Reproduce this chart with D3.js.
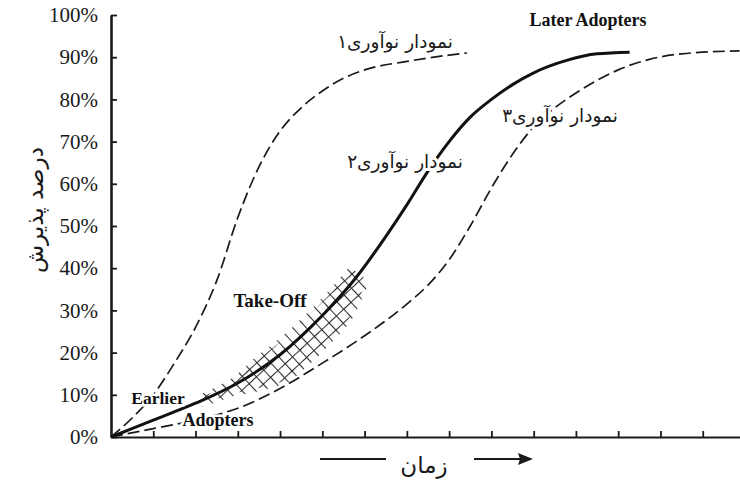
<!DOCTYPE html>
<html>
<head>
<meta charset="utf-8">
<script src="https://cdn.jsdelivr.net/npm/d3@7"></script>
<style>
  body { margin: 0; background: #fff; }
  svg { display: block; }
  .tick text { font-family: "Liberation Serif", serif; font-size: 21px; fill: #1a1a1a; }
  .fa { font-family: "DejaVu Sans", sans-serif; fill: #1a1a1a; }
  .en { font-family: "Liberation Serif", serif; fill: #111; }
</style>
</head>
<body>
<div class="wrapper"></div>
<script>
// tick values / labels
var yTicks = [0, 10, 20, 30, 40, 50, 60, 70, 80, 90, 100];
var yTickLabels = ["0%", "10%", "20%", "30%", "40%", "50%", "60%", "70%", "80%", "90%", "100%"];
var xTicks = [1, 2, 3, 4, 5, 6, 7, 8, 9, 10, 11, 12, 13, 14];

// curves: [time, % adoption]
var innovation1 = [[0, 0], [0.5, 4.5], [1, 10], [1.5, 17.5], [2, 26], [2.5, 37], [3, 52], [3.5, 64],
  [4, 72.5], [4.5, 78], [5, 82], [5.5, 85], [6, 87], [7, 89], [8, 90.5], [8.42, 91]];
var innovation2 = [[0, 0], [1, 4], [2, 8], [3, 12.8], [4, 19.5], [5, 28.8], [5.8, 37.8], [6.5, 47.5],
  [7, 55], [7.5, 63], [8, 70], [8.5, 75.8], [9, 80], [9.5, 83.5], [10, 86.3], [10.8, 89.3],
  [11.5, 90.8], [12.27, 91.2]];
var innovation3 = [[0, 0], [1, 2], [2, 4], [3, 6.8], [4, 11.5], [5, 17.5], [6, 24], [7, 31.5],
  [7.5, 36], [8, 42], [8.5, 50], [9, 59], [9.5, 67], [10, 73.5], [10.5, 78], [11, 81.5],
  [11.5, 84.5], [12, 87], [12.74, 89.5], [13.5, 90.8], [14.87, 91.5]];

var W = 740, H = 481;

var svg = d3.select(".wrapper").append("svg")
  .attr("width", W).attr("height", H);

var x = d3.scaleLinear().domain([0, 15]).range([111, 745]);
var y = d3.scaleLinear().domain([0, 100]).range([437, 15]);

var line = d3.line()
  .x(function (d) { return x(d[0]); })
  .y(function (d) { return y(d[1]); })
  .curve(d3.curveMonotoneX);

// axes
var yAxis = svg.append("g")
  .attr("transform", "translate(" + x(0) + ",0)")
  .call(d3.axisLeft(y).tickValues(yTicks)
    .tickFormat(function (d, i) { return yTickLabels[i]; })
    .tickSizeInner(-6).tickSizeOuter(0).tickPadding(13));
yAxis.select(".domain").attr("stroke", "#1a1a1a").attr("stroke-width", 2.6);
yAxis.selectAll(".tick line").attr("stroke", "#1a1a1a").attr("stroke-width", 1.8);

var xAxis = svg.append("g")
  .attr("transform", "translate(0," + y(0) + ")")
  .call(d3.axisBottom(x).tickValues(xTicks).tickFormat("")
    .tickSizeInner(-6).tickSizeOuter(0));
xAxis.select(".domain").attr("stroke", "#1a1a1a").attr("stroke-width", 2.2);
xAxis.selectAll(".tick line").attr("stroke", "#1a1a1a").attr("stroke-width", 1.8);

// take-off hatch layer sits under the curves
var hatch = svg.append("g");

// curves
svg.append("path").datum(innovation1).attr("d", line)
  .attr("fill", "none").attr("stroke", "#1a1a1a").attr("stroke-width", 1.7)
  .attr("stroke-dasharray", "12,5");
svg.append("path").datum(innovation3).attr("d", line)
  .attr("fill", "none").attr("stroke", "#1a1a1a").attr("stroke-width", 1.7)
  .attr("stroke-dasharray", "12,5");
var main = svg.append("path").datum(innovation2).attr("d", line)
  .attr("fill", "none").attr("stroke", "#111").attr("stroke-width", 3);

// grid band that follows curve 2
var defs = svg.append("defs");
function pattern (id, d) {
  defs.append("pattern").attr("id", id)
    .attr("patternUnits", "userSpaceOnUse")
    .attr("width", 10).attr("height", 10)
    .attr("patternTransform", "rotate(-43)")
    .append("path").attr("d", d)
    .attr("stroke", "#2a2a2a").attr("stroke-width", 1.1).attr("fill", "none");
}
pattern("hatchA", "M0,0.5H10");
pattern("hatchB", "M0.5,0V10");

var node = main.node();
var total = node.getTotalLength();
var pts = [];
for (var l = 0; l <= total; l += 2) {
  var p = node.getPointAtLength(l);
  if (p.x >= 200 && p.x <= 360) pts.push({ l: l, x: p.x, y: p.y });
}
var above = d3.scaleLinear().domain([0, 0.2, 0.35, 1]).range([3, 4, 10, 9]);
var below = d3.scaleLinear().domain([0, 0.15, 0.4, 0.8, 1]).range([3, 6, 24, 22, 10]);

function band (extra) {
  var up = [], dn = [];
  pts.forEach(function (p, i) {
    var f = i / (pts.length - 1);
    var a = node.getPointAtLength(Math.max(p.l - 1, 0));
    var b = node.getPointAtLength(Math.min(p.l + 1, total));
    var dx = b.x - a.x, dy = b.y - a.y, n = Math.sqrt(dx * dx + dy * dy);
    var nx = dy / n, ny = -dx / n; // normal pointing up-left
    up.push([p.x + nx * (above(f) + extra), p.y + ny * (above(f) + extra)]);
    dn.push([p.x - nx * (below(f) + extra), p.y - ny * (below(f) + extra)]);
  });
  return up.concat(dn.reverse());
}
var poly = d3.line();
hatch.append("path").attr("d", poly(band(0)) + "Z").attr("fill", "url(#hatchA)");
hatch.append("path").attr("d", poly(band(3)) + "Z").attr("fill", "url(#hatchB)");

// labels
function fa (txt, cx, cy, size, halo) {
  var t = svg.append("text").attr("class", "fa")
    .attr("x", cx).attr("y", cy).attr("dy", "0.35em")
    .attr("direction", "rtl").attr("text-anchor", "middle")
    .style("font-size", size + "px").text(txt);
  if (halo) t.attr("stroke", "#fff").attr("stroke-width", 6).attr("paint-order", "stroke");
  return t;
}
function en (txt, cx, cy, size, weight, halo) {
  var t = svg.append("text").attr("class", "en")
    .attr("x", cx).attr("y", cy).attr("dy", "0.35em")
    .attr("text-anchor", "middle")
    .style("font-size", size + "px").style("font-weight", weight).text(txt);
  if (halo) t.attr("stroke", "#fff").attr("stroke-width", 5).attr("paint-order", "stroke");
  return t;
}

fa("نمودار نوآوری۱", 395, 42, 18.5, true);
fa("نمودار نوآوری۲", 405, 162, 18.5, true);
fa("نمودار نوآوری۳", 560, 116, 18.5, true);
en("Later Adopters", 588, 20, 18, "bold");
en("Take-Off", 270, 300, 19, "bold");
en("Earlier", 158, 398, 17.5, "bold", true);
en("Adopters", 218, 420, 18, "bold", true);

// axis titles
svg.append("text").attr("class", "fa")
  .attr("transform", "translate(35,210) rotate(-90)")
  .attr("direction", "rtl").attr("text-anchor", "middle").attr("dy", "0.35em")
  .style("font-size", "23px").text("درصد پذیرش");

fa("زمان", 424, 465, 23);
svg.append("line").attr("x1", 320).attr("x2", 386).attr("y1", 459).attr("y2", 459)
  .attr("stroke", "#1a1a1a").attr("stroke-width", 1.8);
svg.append("line").attr("x1", 474).attr("x2", 522).attr("y1", 459).attr("y2", 459)
  .attr("stroke", "#1a1a1a").attr("stroke-width", 1.8);
svg.append("path").attr("d", "M533,459L518,453L520,459L518,465Z").attr("fill", "#1a1a1a");
</script>
</body>
</html>
